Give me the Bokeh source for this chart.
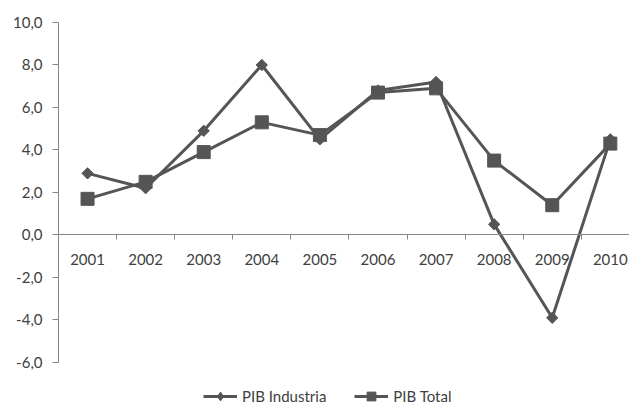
from bokeh.plotting import figure
from bokeh.models import LinearAxis, FixedTicker, Range1d, Legend, LegendItem
from bokeh.embed import file_html
from bokeh.resources import INLINE

years = ["2001", "2002", "2003", "2004", "2005", "2006", "2007", "2008", "2009", "2010"]
pib_industria = [2.9, 2.2, 4.9, 8.0, 4.5, 6.8, 7.2, 0.5, -3.9, 4.5]
pib_total = [1.7, 2.5, 3.9, 5.3, 4.7, 6.7, 6.9, 3.5, 1.4, 4.3]
y_ticks = [-6, -4, -2, 0, 2, 4, 6, 8, 10]

x = list(range(1, len(years) + 1))
boundaries = [i + 0.5 for i in range(0, len(years) + 1)]

LINE = "#555555"
AXIS = "#868686"
TEXT = "#404040"
FONT = "Lato"

p = figure(width=629, height=404, output_backend="svg", toolbar_location=None,
           x_range=Range1d(0.5, 10.33), y_range=Range1d(-7.98, 10),
           x_axis_location=None, y_axis_location=None,
           min_border_left=58, min_border_right=0, min_border_top=22, min_border_bottom=0)
p.outline_line_color = None
p.xgrid.visible = False
p.ygrid.visible = False
p.background_fill_color = "white"

# y axis
yax = LinearAxis(ticker=FixedTicker(ticks=y_ticks), bounds=(-6, 10),
                 major_label_overrides={t: f"{t:.1f}".replace(".", ",") for t in y_ticks})
yax.axis_line_color = AXIS
yax.major_tick_line_color = AXIS
yax.major_tick_in = 0
yax.major_tick_out = 6
yax.minor_tick_line_color = None
yax.major_label_standoff = 10
yax.major_label_text_font = FONT
yax.major_label_text_font_size = "15px"
yax.major_label_text_color = TEXT
p.add_layout(yax, "left")

# x axis line + boundary ticks at y=0
xax = LinearAxis(fixed_location=0, ticker=FixedTicker(ticks=boundaries),
                 major_label_overrides={b: "" for b in boundaries})
xax.axis_line_color = AXIS
xax.major_tick_line_color = AXIS
xax.major_tick_in = 0
xax.major_tick_out = 5
xax.minor_tick_line_color = None
p.add_layout(xax, "below")

# x labels at category centres
xlab = LinearAxis(fixed_location=0, ticker=FixedTicker(ticks=x),
                  major_label_overrides={i: years[i - 1] for i in x})
xlab.axis_line_color = None
xlab.major_tick_line_color = None
xlab.minor_tick_line_color = None
xlab.major_tick_in = 0
xlab.major_tick_out = 0
xlab.major_label_standoff = 19
xlab.major_label_text_font = FONT
xlab.major_label_text_font_size = "15px"
xlab.major_label_text_color = TEXT
p.add_layout(xlab, "below")

l1 = p.line(x, pib_industria, line_color=LINE, line_width=3)
# diamond key (used by the legend; hidden under the rotated squares in the plot)
key1 = p.scatter(x, pib_industria, marker="diamond", size=10, fill_color=LINE, line_color=LINE)
p.scatter(x, pib_industria, marker="square", angle=0.785398, size=8,
          fill_color=LINE, line_color=LINE)
l2 = p.line(x, pib_total, line_color=LINE, line_width=3)
s2 = p.scatter(x, pib_total, marker="square", size=13, fill_color=LINE, line_color=LINE)

legend = Legend(items=[LegendItem(label="PIB Industria", renderers=[l1, key1]),
                       LegendItem(label="PIB Total", renderers=[l2, s2])],
                orientation="horizontal", location=(145, -3),
                glyph_width=34, glyph_height=22, label_height=14, label_standoff=5, spacing=28,
                padding=0, margin=0, border_line_color=None, background_fill_alpha=0,
                label_text_font=FONT, label_text_font_size="15px", label_text_color=TEXT)
p.add_layout(legend, "center")

open("out.html", "w").write(file_html(p, INLINE))
